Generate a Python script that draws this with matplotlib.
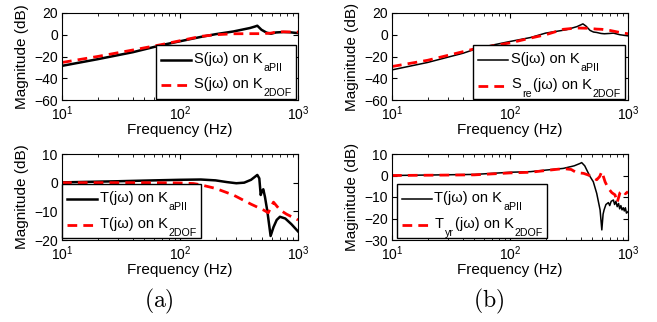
import matplotlib
matplotlib.use('Agg')
import matplotlib.pyplot as plt
from matplotlib.ticker import LogLocator, NullFormatter
from matplotlib.transforms import IdentityTransform
from matplotlib.font_manager import FontProperties
from matplotlib.patches import Rectangle
from matplotlib.lines import Line2D

plt.rcParams['font.family'] = ['Liberation Sans', 'DejaVu Sans']
plt.rcParams['mathtext.fontset'] = 'cm'
plt.rcParams['axes.unicode_minus'] = True

# (a) top: sensitivity
sa_k_f = [10, 20, 40, 70, 100, 150, 200, 283, 392, 430, 452, 490, 540, 590, 650, 750, 850, 1000]
sa_k_m = [-28.6, -22.5, -16, -9.5, -6, -2, 0.5, 3, 6.2, 7.5, 8.3, 4.6, 2, 0.9, 2.1, 2.5, 2.3, 1.5]
sa_r_f = [10, 20, 40, 70, 100, 150, 200, 283, 400, 500, 590, 650, 750, 1000]
sa_r_m = [-25.5, -20, -14, -9, -5.5, -1.5, 0, 0.9, 1, 1, 1.5, 2.5, 2.7, 2.5]

# (a) bottom: complementary sensitivity
ta_k_f = [10, 30, 60, 100, 150, 200, 250, 300, 350, 400, 430, 452, 470, 483, 495, 508, 525, 550, 586, 620, 660, 703, 780, 880, 1000]
ta_k_m = [0.1, 0.5, 0.8, 1, 1.1, 0.8, 0.2, -0.2, 0, 1, 2, 2.7, 1.5, -4.3, -3, -2.3, -5, -10, -18.6, -15.5, -13, -11.9, -12.5, -14.5, -17]
ta_r_f = [10, 50, 100, 130, 148, 200, 283, 400, 508, 560, 598, 620, 703, 800, 1000]
ta_r_m = [0, 0, -0.1, -0.3, -0.7, -2, -4.3, -7.5, -9.5, -10.5, -8, -6.8, -9.5, -11, -13]

# (b) top: sensitivity
sb_k_f = [10, 20, 40, 55, 100, 150, 200, 300, 370, 415, 440, 477, 510, 543, 590, 630, 700, 752, 855, 1000]
sb_k_m = [-32.3, -25.5, -17, -12, -6.2, -2.5, 1.5, 4.6, 7.5, 10, 8, 4, 2.5, 2.1, 1.2, 0.9, 1.2, 1.5, 0, -1]
sb_r_f = [10, 20, 50, 100, 150, 200, 283, 367, 450, 543, 600, 700, 855, 1000]
sb_r_m = [-29.2, -23.5, -13, -7.5, -3, 0, 5, 6.2, 6, 5.2, 5, 4, 2.1, 0.9]

# (b) bottom: complementary sensitivity
tb_k_f = [10, 50, 100, 150, 200, 283, 350, 392, 405, 430, 447, 477, 508, 543, 580, 600, 615, 627, 650, 682, 700, 720, 752, 770, 790, 810, 832, 850, 870, 890, 912, 930, 950, 970, 1000]
tb_k_m = [0, 0.5, 1.5, 1.8, 2.5, 3.3, 4.5, 5.6, 6, 4.5, 2.6, -0.5, -2.9, -8.3, -16, -25.3, -18, -16, -13.5, -12.6, -14, -12, -11.4, -13.5, -12, -14.5, -13, -15.5, -14, -16, -15, -16.5, -15, -17.5, -16.8]
tb_r_f = [10, 50, 100, 148, 200, 283, 330, 367, 420, 462, 510, 543, 575, 600, 640, 682, 730, 776, 810, 855, 900, 950, 1000]
tb_r_m = [0, 0.3, 1.2, 1.5, 2.3, 3.2, 2.8, 1.3, 1, 0.2, -1, -2, -0.5, 1.8, -3, -6, -8, -9, -12.5, -8, -7, -8.5, -7.5]

# legend labels as (text, is_subscript) pieces
leg_sa = [[('S(jω) on K', 0), ('aPII', 1)], [('S(jω) on K', 0), ('2DOF', 1)]]
leg_sb = [[('S(jω) on K', 0), ('aPII', 1)], [('S', 0), ('re', 1), ('(jω) on K', 0), ('2DOF', 1)]]
leg_ta = [[('T(jω) on K', 0), ('aPII', 1)], [('T(jω) on K', 0), ('2DOF', 1)]]
leg_tb = [[('T(jω) on K', 0), ('aPII', 1)], [('T', 0), ('yr', 1), ('(jω) on K', 0), ('2DOF', 1)]]

FW, FH = 657, 322
fig = plt.figure(figsize=(FW / 100, FH / 100), dpi=100)

W = 236 / FW
axes_px = [(62, 13, 87), (392, 13, 87), (62, 154, 86), (392, 154, 86)]
axs = []
for x0, y0, h in axes_px:
    axs.append(fig.add_axes([x0 / FW, (FH - y0 - h) / FH, W, h / FH]))

lw_a = 1.8
lw_b = 1.1
lw_r = 2.0
dash = (0, (3.5, 2.2))
fs = 10.5

# legend box anchor: (x in px, 'right'/'left' edge, bottom y in px from top)
setups = [
    (axs[0], sa_k_f, sa_k_m, sa_r_f, sa_r_m, lw_a, leg_sa, (296, 'right', 98.5)),
    (axs[1], sb_k_f, sb_k_m, sb_r_f, sb_r_m, lw_b, leg_sb, (625, 'right', 99)),
    (axs[2], ta_k_f, ta_k_m, ta_r_f, ta_r_m, lw_a, leg_ta, (62.3, 'left', 238.3)),
    (axs[3], tb_k_f, tb_k_m, tb_r_f, tb_r_m, lw_b, leg_tb, (397, 'left', 238.3)),
]

for ax, kf, km, rf, rm, lwk, labs, anc in setups:
    ax.semilogx(kf, km, color='k', lw=lwk)
    ax.semilogx(rf, rm, color='r', lw=lw_r, linestyle=dash)

axs[0].set_ylim(-60, 20)
axs[0].set_yticks([-60, -40, -20, 0, 20])
axs[0].set_ylabel('Magnitude (dB)')
axs[1].set_ylim(-60, 20)
axs[1].set_yticks([-60, -40, -20, 0, 20])
axs[1].set_ylabel('Maginitude (dB)')
axs[2].set_ylim(-20, 10)
axs[2].set_yticks([-20, -10, 0, 10])
axs[2].set_ylabel('Magnitude (dB)')
axs[3].set_ylim(-30, 10)
axs[3].set_yticks([-30, -20, -10, 0, 10])
axs[3].set_ylabel('Maginitude (dB)')

for ax in axs:
    ax.set_xlim(10, 1000)
    ax.set_xticks([10, 100, 1000])
    ax.xaxis.set_minor_locator(LogLocator(base=10, subs=range(2, 10)))
    ax.xaxis.set_minor_formatter(NullFormatter())
    ax.set_xlabel('Frequency (Hz)', fontsize=11, labelpad=0.5)
    ax.yaxis.label.set_size(11)
    ax.tick_params(which='both', direction='in', top=True, right=True, labelsize=10, pad=3)
    ax.tick_params(which='major', length=3.5)
    ax.tick_params(which='minor', length=2)
    for s in ax.spines.values():
        s.set_linewidth(0.8)

fig.text(159 / FW, 1 - 301 / FH, r'$\mathrm{(a)}$', fontsize=17, ha='center', va='center')
fig.text(489 / FW, 1 - 301 / FH, r'$\mathrm{(b)}$', fontsize=17, ha='center', va='center')

# legends drawn by hand so the subscripts sit low like MATLAB's tex labels
r = fig.canvas.get_renderer()
ident = IdentityTransform()
sub_scale = 0.73
sub_drop = 0.55 * fs * 100 / 72
kern = 1.2
pad_l, hand_len, gap, pad_r = 5, 30, 2.5, 4
box_h = 54
base_off = [18, 43.5]


def piece_widths(pieces):
    ws = []
    for txt, sub in pieces:
        size = fs * sub_scale if sub else fs
        fp = FontProperties(family=['Liberation Sans', 'DejaVu Sans'], size=size)
        w, h, d = r.get_text_width_height_descent(txt, fp, ismath=False)
        ws.append(w)
    return ws


for ax, _, _, _, _, lwk, labs, anc in setups:
    widths = [piece_widths(p) for p in labs]
    text_w = max(sum(ws) + kern * (len(ws) - 1) for ws in widths)
    box_w = pad_l + hand_len + gap + text_w + pad_r
    xa, side, yb_top = anc
    left = xa - box_w if side == 'right' else xa
    bottom = FH - yb_top
    top = bottom + box_h
    fig.add_artist(Rectangle((left, bottom), box_w, box_h, transform=ident,
                             facecolor='white', edgecolor='k', lw=1.0, zorder=5))
    styles = [dict(color='k', lw=lwk), dict(color='r', lw=lw_r, linestyle=dash)]
    for i, (pieces, ws) in enumerate(zip(labs, widths)):
        yb = top - base_off[i]
        fig.add_artist(Line2D([left + pad_l, left + pad_l + hand_len], [yb + 3, yb + 3],
                              transform=ident, zorder=6, **styles[i]))
        x = left + pad_l + hand_len + gap
        for (txt, sub), w in zip(pieces, ws):
            size = fs * sub_scale if sub else fs
            y = yb - sub_drop if sub else yb
            fig.text(x, y, txt, fontsize=size, ha='left', va='baseline',
                     transform=ident, zorder=7)
            x += w + kern

fig.savefig('out.png', dpi=100)
